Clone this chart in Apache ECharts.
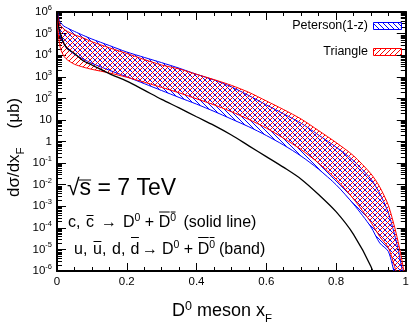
<!DOCTYPE html>
<html>
<head>
<meta charset="utf-8">
<script src="https://cdn.jsdelivr.net/npm/echarts@6/dist/echarts.min.js"></script>
<style>
  html, body { margin: 0; padding: 0; background: #fff; }
  #chart { width: 412px; height: 324px; }
</style>
</head>
<body>
<div id="chart"></div>
<script>
const FONT = '"Liberation Sans", Arial, Helvetica, sans-serif';

// x_F sampling points shared by every curve
const xF = [0, 0.002, 0.005, 0.01, 0.02, 0.03, 0.05, 0.075, 0.1, 0.15, 0.2, 0.25, 0.3, 0.35, 0.4,
            0.45, 0.5, 0.55, 0.6, 0.65, 0.7, 0.75, 0.8, 0.85, 0.9, 0.925, 0.95, 0.97, 0.98, 0.99, 1.0];

// dσ/dx_F (μb): c, c̄ → D0 + D̄0 (solid line)
const charmCurve = [1.6e6, 5e5, 2e5, 1e5, 3.5e4, 2e4, 1.2e4, 5.5e3, 3.5e3, 1.4e3, 630, 240, 90, 36, 14,
                    5.6, 2.0, 0.63, 0.2, 0.063, 0.018, 3.5e-3, 5.6e-4, 5e-5, 1.6e-6, 1e-7, null, null, null, null, null];

// light-quark band, Peterson(1-z) fragmentation
const petersonUpper = [1.6e6, 8.9e5, 5e5, 3.2e5, 2.2e5, 1.8e5, 1.26e5, 8.3e4, 5.6e4, 2.8e4, 1.4e4, 7.9e3, 4.5e3, 2.5e3, 1.3e3,
                       710, 340, 135, 50, 19, 7, 2.0, 0.55, 0.13, 0.018, 4e-3, 5e-4, 3.5e-5, 7e-6, 1e-6, 5e-8];
const petersonLower = [1.6e6, 5e5, 1.6e5, 7e4, 3.2e4, 2e4, 1.1e4, 6.6e3, 4.2e3, 2e3, 1e3, 480, 230, 110, 54,
                       25, 11, 4.8, 1.9, 0.68, 0.21, 0.052, 0.01, 1.26e-3, 1.1e-4, 2e-5, 8e-6, 5e-7, 1e-7, 1e-8, 1e-9];

// light-quark band, Triangle fragmentation
const triangleUpper = [1.6e6, 7.1e5, 4e5, 2.4e5, 1.6e5, 1.26e5, 8.9e4, 6.3e4, 4.2e4, 2.2e4, 1.2e4, 6.3e3, 3.5e3, 2.3e3, 1.3e3,
                       740, 400, 190, 76, 30, 11, 3.2, 0.9, 0.22, 0.032, 8e-3, 1.1e-3, 8e-5, 1.6e-5, 2.5e-6, 2.5e-7];
const triangleLower = [1.6e6, 2.5e5, 6.3e4, 2e4, 8.9e3, 6e3, 3.8e3, 2.8e3, 2.2e3, 1.5e3, 950, 560, 320, 180, 95,
                       50, 24, 10.5, 4.2, 1.4, 0.42, 0.1, 0.018, 2.2e-3, 1.8e-4, 4e-5, 1.2e-5, 1.26e-6, 4e-7, 1e-7, 1e-8];

const bandNames = ['Peterson(1-z)', 'Triangle'];
const bandColors = ['#0000ff', '#ff0000'];

// axis ranges and minor-tick multipliers for the log axis
const xRange = [0, 1];
const yRange = [1e-6, 1e6];
const logMinorSteps = [2, 3, 4, 5, 6, 7, 8, 9];

// diagonal hatch tile: dir = -1 gives "\\\\", dir = +1 gives "////"
function hatchTile(color, dir) {
  const n = 5;
  const c = document.createElement('canvas');
  c.width = n; c.height = n;
  const g = c.getContext('2d');
  g.fillStyle = color;
  for (let i = 0; i < n; i++) g.fillRect(i, dir > 0 ? n - 1 - i : i, 1, 1);
  return { image: c, repeat: 'repeat' };
}
const bandPatterns = [hatchTile(bandColors[0], -1), hatchTile(bandColors[1], 1)];

function bandSeries(name, upper, lower, color, pattern) {
  return {
    type: 'custom',
    name: name,
    silent: true,
    clip: true,
    z: 3,
    data: [[0.5, 1]],
    encode: { x: 0, y: 1 },
    renderItem: function (params, api) {
      const pts = [];
      for (let i = 0; i < xF.length; i++) if (upper[i] != null) pts.push(api.coord([xF[i], upper[i]]));
      for (let i = xF.length - 1; i >= 0; i--) if (lower[i] != null) pts.push(api.coord([xF[i], lower[i]]));
      return {
        type: 'polygon',
        shape: { points: pts, smooth: 0.25 },
        style: { fill: pattern, stroke: color, lineWidth: 1 }
      };
    }
  };
}

function pairs(ys) {
  const out = [];
  xF.forEach((x, i) => { if (ys[i] != null) out.push([x, ys[i]]); });
  return out;
}

const axisLineStyle = { color: '#000', width: 2 };

function logLabel(v) {
  const e = Math.round(Math.log10(v));
  if (e === 0) return '{b|1}';
  if (e === 1) return '{b|10}';
  return '{b|10}{s|' + e + '}';
}

const chart = echarts.init(document.getElementById('chart'), null, { renderer: 'canvas' });

function logAxis(position, showLabel) {
  return {
    type: 'log', logBase: 10, position: position, min: yRange[0], max: yRange[1], interval: 1,
    axisLine: { onZero: false, lineStyle: axisLineStyle },
    axisTick: { inside: true, length: 9, lineStyle: { color: '#000', width: 1 } },
    splitLine: { show: false },
    axisLabel: showLabel ? {
      margin: 5, formatter: logLabel,
      rich: {
        b: { fontSize: 11.5, fontFamily: FONT, color: '#000', lineHeight: 12, verticalAlign: 'bottom' },
        s: { fontSize: 7.5, fontFamily: FONT, color: '#000', lineHeight: 8, padding: [0, 0, 6, 0], verticalAlign: 'bottom' }
      }
    } : { show: false }
  };
}

function linAxis(position, showLabel) {
  return {
    type: 'value', position: position, min: xRange[0], max: xRange[1], interval: 0.2,
    axisLine: { onZero: false, lineStyle: axisLineStyle },
    axisTick: { inside: true, length: 8, lineStyle: { color: '#000', width: 1 } },
    minorTick: { show: true, splitNumber: 4, length: 4, lineStyle: { color: '#000', width: 1 } },
    splitLine: { show: false },
    axisLabel: showLabel ? { color: '#000', fontSize: 11.5, fontFamily: FONT, margin: 5 } : { show: false }
  };
}

const option = {
  animation: false,
  backgroundColor: '#fff',
  grid: { left: 57, right: 5, top: 12, bottom: 53 },
  xAxis: [linAxis('bottom', true), linAxis('top', false)],
  yAxis: [logAxis('left', true), logAxis('right', false)],
  series: [
    bandSeries(bandNames[0], petersonUpper, petersonLower, bandColors[0], bandPatterns[0]),
    bandSeries(bandNames[1], triangleUpper, triangleLower, bandColors[1], bandPatterns[1]),
    {
      type: 'line', name: 'c, cbar', data: pairs(charmCurve), symbol: 'none', smooth: 0.3,
      lineStyle: { color: '#000', width: 1.3 }, z: 5, silent: true, clip: true
    }
  ]
};
chart.setOption(option);

// ---- text helpers ---------------------------------------------------------
const measurer = document.createElement('canvas').getContext('2d');
function widthOf(t, size) {
  measurer.font = size + 'px ' + FONT;
  return measurer.measureText(t).width;
}
// parts: { t: text, s: font size, dy: vertical offset, bar: overline offset, at: absolute left x }
function textRun(parts, x0, y0, rotation) {
  const children = [];
  let x = 0;
  parts.forEach(p => {
    if (p.at != null) x = p.at - x0;
    const w = widthOf(p.t, p.s);
    children.push({
      type: 'text', x: x, y: p.dy || 0,
      style: { text: p.t, font: p.s + 'px ' + FONT, fill: '#000', align: 'left', verticalAlign: 'middle' }
    });
    if (p.bar != null) {
      children.push({
        type: 'line',
        shape: { x1: x + (p.bl != null ? p.bl : 0.5), y1: p.bar, x2: x + w - (p.br != null ? p.br : 0.5), y2: p.bar },
        style: { stroke: '#000', lineWidth: 1 }
      });
    }
    x += w;
  });
  return { type: 'group', x: x0, y: y0, rotation: rotation || 0, silent: true, children: children };
}

const graphics = [];

// minor ticks of the log axes at 2..9 × 10^n, placed through the axis scale
const xLeft = chart.convertToPixel({ xAxisIndex: 0 }, xRange[0]);
const xRight = chart.convertToPixel({ xAxisIndex: 0 }, xRange[1]);
const eMin = Math.round(Math.log10(yRange[0]));
const eMax = Math.round(Math.log10(yRange[1]));
for (let e = eMin; e < eMax; e++) {
  logMinorSteps.forEach(k => {
    const py = Math.round(chart.convertToPixel({ yAxisIndex: 0 }, k * Math.pow(10, e))) + 0.5;
    graphics.push({ type: 'line', silent: true, shape: { x1: xLeft, y1: py, x2: xLeft + 5, y2: py }, style: { stroke: '#000', lineWidth: 1 } });
    graphics.push({ type: 'line', silent: true, shape: { x1: xRight - 5, y1: py, x2: xRight, y2: py }, style: { stroke: '#000', lineWidth: 1 } });
  });
}

// legend
const legendTop = [22, 48];
bandNames.forEach((n, i) => {
  graphics.push({
    type: 'text', silent: true, x: 368, y: legendTop[i] + 4,
    style: { text: n, font: '12.5px ' + FONT, fill: '#000', align: 'right', verticalAlign: 'middle' }
  });
  graphics.push({
    type: 'rect', silent: true, shape: { x: 373.5, y: legendTop[i] + 0.5, width: 28, height: 7 },
    style: { fill: bandPatterns[i], stroke: bandColors[i], lineWidth: 1 }
  });
});

// axis titles
graphics.push(textRun([
  { t: 'D', s: 18 }, { t: '0', s: 12.5, dy: -4 }, { t: ' meson x', s: 18 }, { t: 'F', s: 11.5, dy: 8 }
], 172, 311, 0));
graphics.push(textRun([
  { t: 'dσ/dx', s: 17 }, { t: 'F', s: 11.5, dy: 7 }, { t: '    (μb)', s: 17 }
], 14, 197, Math.PI / 2));

// annotations
graphics.push(textRun([
  { t: '√', s: 23 }, { t: 's', s: 23, bar: -9, bl: -1, br: 0 }, { t: ' = 7 TeV', s: 23 }
], 67, 189, 0));
graphics.push(textRun([
  { t: 'c, ', s: 16, at: 68 }, { t: 'c', s: 16, at: 86, bar: -7.5 }, { t: '→', s: 16, at: 101 },
  { t: 'D', s: 16, at: 123 }, { t: '0', s: 10.5, dy: -4.5 },
  { t: ' + ', s: 16 }, { t: 'D', s: 16, bar: -11 }, { t: '0', s: 10.5, dy: -4.5, bar: -11 },
  { t: '(solid line)', s: 16, at: 183.5 }
], 68, 223, 0));
graphics.push(textRun([
  { t: 'u,', s: 16, at: 74 }, { t: 'u', s: 16, at: 93, bar: -8 }, { t: ',', s: 16 },
  { t: 'd,', s: 16, at: 112 }, { t: 'd', s: 16, at: 130.5, bar: -12 },
  { t: '→', s: 16, at: 142 },
  { t: 'D', s: 16, at: 162 }, { t: '0', s: 10.5, dy: -4.5 },
  { t: ' + ', s: 16 }, { t: 'D', s: 16, bar: -12 }, { t: '0', s: 10.5, dy: -4.5, bar: -12 },
  { t: '(band)', s: 16, at: 219 }
], 74, 249.5, 0));

chart.setOption({ graphic: { elements: graphics } });
</script>
</body>
</html>
